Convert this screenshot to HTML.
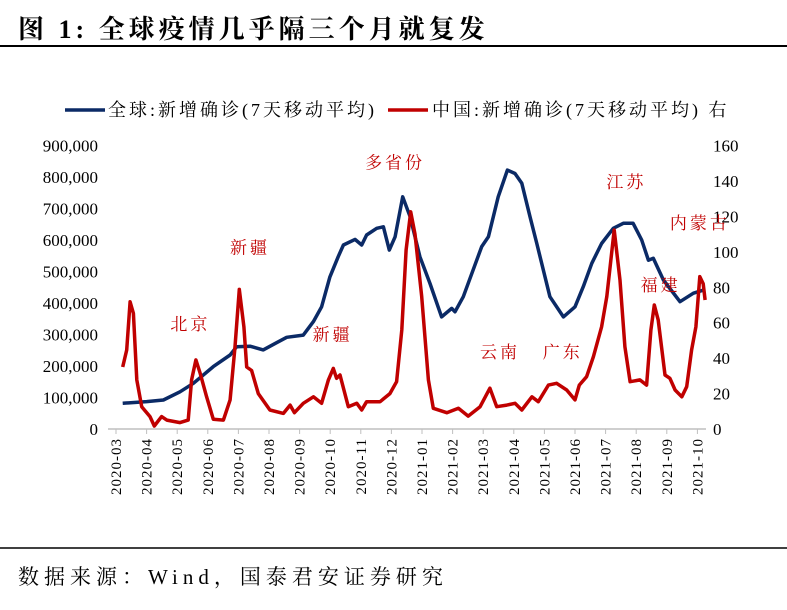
<!DOCTYPE html>
<html><head><meta charset="utf-8"><style>
body{margin:0;background:#fff;width:787px;height:605px;overflow:hidden;font-family:"Liberation Serif","Noto Serif CJK SC",serif;}
svg text{font-family:"Liberation Serif","Noto Serif CJK SC",serif;}
</style></head><body>
<svg id="chart" width="787" height="605">
<text x="18" y="38" font-size="26" font-weight="bold" letter-spacing="4">图 1:  全球疫情几乎隔三个月就复发</text>
<line x1="0" y1="46" x2="787" y2="46" stroke="#000" stroke-width="2"/>
<line x1="0" y1="548" x2="787" y2="548" stroke="#000" stroke-width="1.5"/>
<text x="18" y="584" font-size="21" letter-spacing="5">数据来源：Wind，国泰君安证券研究</text>
<g>
<line x1="65" y1="110" x2="105" y2="110" stroke="#0b2a66" stroke-width="3.5"/>
<text x="108" y="116" font-size="18" letter-spacing="3">全球:新增确诊(7天移动平均)</text>
<line x1="388" y1="110" x2="428" y2="110" stroke="#c00000" stroke-width="3.5"/>
<text x="432" y="116" font-size="18" letter-spacing="3">中国:新增确诊(7天移动平均) 右</text>
</g>
<g id="axes"></g>
<g id="series"></g>
<g id="notes" font-size="17" fill="#c00000" letter-spacing="3"></g>
</svg>
<script>
const monthLabels=["2020-03","2020-04","2020-05","2020-06","2020-07","2020-08","2020-09","2020-10","2020-11","2020-12","2021-01","2021-02","2021-03","2021-04","2021-05","2021-06","2021-07","2021-08","2021-09","2021-10"];
const leftTicks=[0,100000,200000,300000,400000,500000,600000,700000,800000,900000];
const rightTicks=[0,20,40,60,80,100,120,140,160];
const globalT=[0.22,1.00,1.55,2.09,2.53,3.18,3.73,3.94,4.38,4.81,5.25,5.58,6.12,6.45,6.72,6.99,7.26,7.43,7.81,8.03,8.19,8.52,8.74,8.93,9.12,9.37,9.61,9.93,10.26,10.64,10.97,11.08,11.35,11.95,12.17,12.49,12.79,13.04,13.26,13.53,13.75,14.18,14.62,15.00,15.27,15.55,15.87,16.25,16.58,16.90,17.18,17.40,17.56,17.89,18.43,18.87,19.20];
const globalV=[81600,87000,92000,118000,145000,198000,235000,261000,263000,251000,274000,291000,298000,341000,388000,483000,547000,584000,602000,584000,616000,637000,642000,568000,610000,737000,674000,547000,462000,356000,383000,372000,420000,579000,610000,737000,822000,811000,780000,674000,589000,420000,356000,388000,452000,526000,589000,637000,653000,653000,600000,536000,542000,473000,404000,431000,441000];
const chinaT=[0.22,0.35,0.46,0.57,0.68,0.84,1.11,1.25,1.49,1.66,2.09,2.36,2.47,2.61,2.75,2.96,3.18,3.51,3.73,3.89,4.03,4.18,4.27,4.43,4.65,5.03,5.47,5.69,5.83,6.12,6.45,6.72,6.94,7.10,7.21,7.32,7.59,7.87,8.03,8.19,8.63,8.95,9.17,9.34,9.48,9.63,9.77,9.99,10.21,10.37,10.81,11.19,11.51,11.90,12.22,12.44,12.77,13.04,13.26,13.59,13.80,14.13,14.40,14.73,15.00,15.14,15.38,15.60,15.87,16.04,16.28,16.47,16.63,16.80,17.12,17.34,17.48,17.59,17.72,17.94,18.10,18.27,18.49,18.65,18.81,18.95,19.08,19.19,19.25];
const chinaV=[35,44.6,71.8,65.3,27.7,12.6,7,1.7,7,5,3.6,5,27.7,39,31.4,18.2,5.5,5,16.4,46.4,78.8,57.7,35,33,20,10.7,8.8,13.5,9.2,14.5,18.2,14.5,27.7,34.2,28.6,30.5,12.6,14.5,10.7,15.4,15.4,20,26.7,55.9,101,122.6,110,74.7,27.7,11.7,9.2,11.7,7.3,12.6,23,12.6,13.5,14.5,10.7,18.2,15.4,24.8,25.8,22,16.4,24.8,29.5,40.8,57.7,74.7,112.3,84,46.4,26.7,27.7,24.8,55.9,70,61.5,30.5,28.6,22,18.2,23.9,44.6,57.7,86,82,72.8];
const noteText=["多省份","新疆","北京","新疆","云南","广东","江苏","福建","内蒙古"];
const noteT=[9.12,4.38,2.43,7.08,12.55,14.6,16.68,17.8,19.08];
const noteV=[147,99,56,50,40,40,136,78,113];

const NS="http://www.w3.org/2000/svg";
const X0=116,DX=30.6,Y0=429,PH=283.5;
const xs=t=>X0+t*DX;
const yl=v=>Y0-v/900000*PH;
const yr=v=>Y0-v/160*PH;
function mk(tag,attrs,parent){const e=document.createElementNS(NS,tag);for(const k in attrs)e.setAttribute(k,attrs[k]);parent.appendChild(e);return e;}
const axes=document.getElementById('axes');
const ax=mk('line',{x1:108,y1:Y0,x2:706,y2:Y0,stroke:'#bfbfbf','stroke-width':1.5},axes);


monthLabels.forEach((m,i)=>{
  const tk=mk('line',{x1:xs(i),y1:Y0,x2:xs(i),y2:Y0+5,stroke:'#bfbfbf'},axes);
  
  
  const t=mk('text',{x:0,y:0,'font-size':15,'letter-spacing':1,'text-anchor':'end',transform:`translate(${xs(i)+5},${Y0+9}) rotate(-90)`},axes);
  t.textContent=m;
  
  
});
leftTicks.forEach(v=>{
  const t=mk('text',{x:98,y:yl(v)+6,'font-size':17,'text-anchor':'end'},axes);
  t.textContent=v.toLocaleString('en-US');
  
  
});
rightTicks.forEach(v=>{
  const t=mk('text',{x:713,y:yr(v)+6,'font-size':17},axes);
  t.textContent=v;
  
  
});
const ser=document.getElementById('series');
const gp=mk('path',{d:globalT.map((t,i)=>(i?'L':'M')+xs(t).toFixed(1)+','+yl(globalV[i]).toFixed(1)).join(''),fill:'none',stroke:'#0b2a66','stroke-width':3.5,'stroke-linejoin':'round'},ser);


const cp=mk('path',{d:chinaT.map((t,i)=>(i?'L':'M')+xs(t).toFixed(1)+','+yr(chinaV[i]).toFixed(1)).join(''),fill:'none',stroke:'#c00000','stroke-width':3.5,'stroke-linejoin':'round'},ser);


const notes=document.getElementById('notes');
noteText.forEach((s,i)=>{
  const t=mk('text',{x:xs(noteT[i]),y:yr(noteV[i]),'text-anchor':'middle'},notes);
  t.textContent=s;
  
  
});
</script>
</body></html>
